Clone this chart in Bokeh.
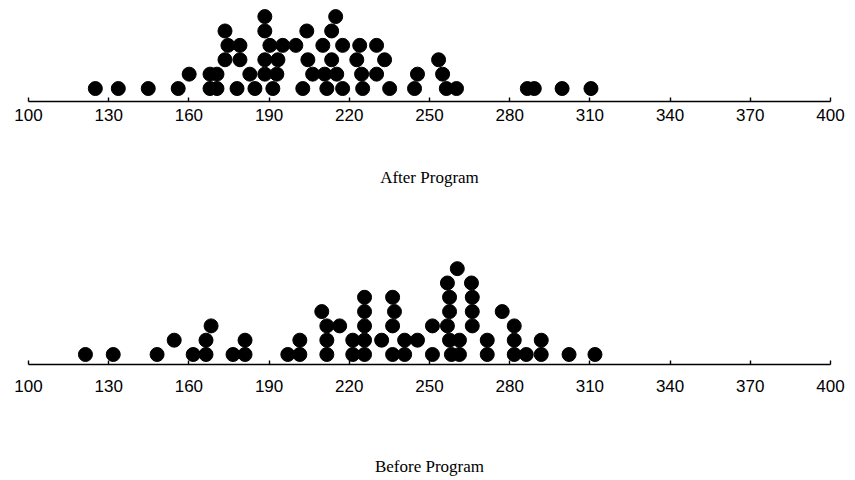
from bokeh.plotting import figure
from bokeh.models import Range1d, FixedTicker, ColumnDataSource
from bokeh.layouts import column
from bokeh.embed import file_html
from bokeh.resources import INLINE

# ---- data: value of each dot and its stack level (0 = bottom row) ----
after_values = [125.0, 133.6, 144.8, 156.0, 167.9, 170.5, 178.0, 184.7, 191.4, 202.6, 211.6,
                217.5, 225.0, 235.1, 244.4, 256.3, 260.1, 286.6, 289.2, 299.6, 310.4,
                160.1, 167.9, 170.5, 182.8, 188.4, 192.9, 206.3, 210.8, 215.3, 224.6, 230.2,
                245.5, 254.9,
                173.5, 179.1, 188.4, 193.3, 204.5, 213.4, 222.8, 233.2, 253.4,
                174.6, 179.1, 190.3, 195.1, 200.0, 210.1, 217.5, 223.9, 230.2,
                173.5, 188.4, 204.1, 213.4,
                188.4, 214.9]
after_levels = [0] * 21 + [1] * 13 + [2] * 9 + [3] * 9 + [4] * 4 + [5] * 2

before_values = [121.3, 131.7, 148.1, 161.6, 166.4, 176.5, 181.0, 197.0, 201.5, 211.6, 221.3,
                 225.7, 236.2, 240.7, 251.1, 258.2, 261.2, 271.6, 281.7, 286.2, 291.8, 302.2,
                 311.9,
                 154.5, 166.4, 181.0, 201.5, 211.6, 221.3, 225.7, 232.1, 240.7, 245.5, 257.5,
                 261.2, 271.6, 281.7, 291.8,
                 168.3, 211.6, 216.4, 225.7, 236.2, 251.1, 256.7, 266.0, 281.7,
                 209.7, 225.7, 236.9, 257.5, 266.0, 277.2,
                 225.7, 236.2, 257.5, 266.0,
                 256.7, 265.7,
                 260.4]
before_levels = [0] * 23 + [1] * 15 + [2] * 9 + [3] * 6 + [4] * 4 + [5] * 2 + [6] * 1

tick_values = [100, 130, 160, 190, 220, 250, 280, 310, 340, 370, 400]
titles = ["After Program", "Before Program"]


def make_plot(values, levels, title, y_range, top, bottom, right, label_standoff, title_standoff):
    p = figure(width=855, height=240, output_backend="svg", toolbar_location=None,
               x_range=Range1d(100, 400), y_range=y_range,
               min_border_top=top, min_border_bottom=bottom,
               min_border_left=28, min_border_right=right)
    p.outline_line_color = None
    p.xgrid.visible = False
    p.ygrid.visible = False
    p.yaxis.visible = False
    p.background_fill_color = "white"
    p.border_fill_color = "white"
    src = ColumnDataSource(dict(x=values, y=levels))
    p.scatter("x", "y", source=src, size=14, color="black", marker="circle")
    ax = p.xaxis[0]
    ax.ticker = FixedTicker(ticks=tick_values)
    ax.minor_tick_line_color = None
    ax.major_tick_in = 4
    ax.major_tick_out = 0
    ax.axis_line_width = 1.6
    ax.major_tick_line_width = 1.4
    ax.axis_line_color = "black"
    ax.major_tick_line_color = "black"
    ax.major_label_text_font = "Liberation Sans"
    ax.major_label_text_font_size = "17px"
    ax.major_label_text_color = "black"
    ax.major_label_standoff = label_standoff
    ax.axis_label = title
    ax.axis_label_text_font = "Liberation Serif"
    ax.axis_label_text_font_size = "17px"
    ax.axis_label_text_font_style = "normal"
    ax.axis_label_text_color = "black"
    ax.axis_label_standoff = title_standoff
    return p


p1 = make_plot(after_values, after_levels, titles[0], Range1d(-0.9, 5.77),
               top=5, bottom=139, right=22, label_standoff=7, title_standoff=44)
p2 = make_plot(before_values, before_levels, titles[1], Range1d(-0.7, 7.27),
               top=10, bottom=116, right=25, label_standoff=15, title_standoff=62)

layout = column(p1, p2, spacing=0)
open("out.html", "w").write(file_html(layout, INLINE))
